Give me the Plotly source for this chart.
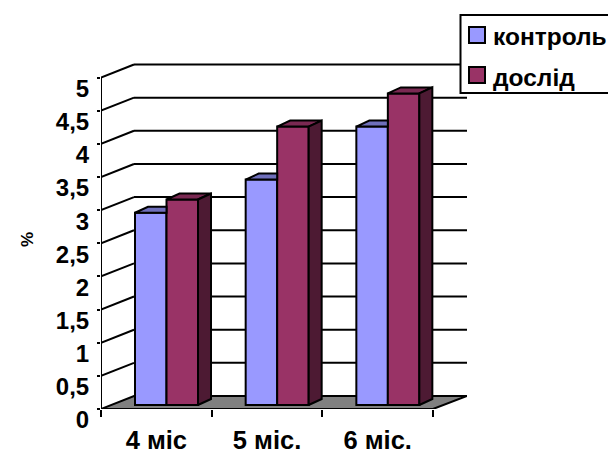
import plotly.graph_objects as go

categories = ["4 міс", "5 міс.", "6 міс."]
control = [2.9, 3.4, 4.2]
trial = [3.1, 4.2, 4.7]
y_ticks = [0, 0.5, 1, 1.5, 2, 2.5, 3, 3.5, 4, 4.5, 5]
y_tick_labels = ["0", "0,5", "1", "1,5", "2", "2,5", "3", "3,5", "4", "4,5", "5"]

W, H = 608, 450
L, R, T, B = 101, 467, 55, 409
XU, YU = 110.67, 66.3            # pixels per category / per value unit
WDX, WDY = 33 / XU, 13 / YU      # depth of the chart box
BDX, BDY = 13 / XU, 6 / YU       # depth of a bar
BASE = 4 / YU
BW = 31.5 / XU
OFF = 34 / XU
BLUE, BLUE_TOP, BLUE_SIDE = "#9999FF", "#6F6FBB", "#4D4D80"
RED, RED_TOP, RED_SIDE = "#993366", "#7A2952", "#4D1A33"
LW = 2

fig = go.Figure()
xs = [i for i in range(len(categories))]

for name, vals, col, k in [("контроль", control, BLUE, 0), ("дослід", trial, RED, 1)]:
    fig.add_bar(x=[i + 0.5 for i in xs], y=vals, base=BASE, offset=[OFF + k * BW - 0.5] * 3,
                width=BW, name=name, marker=dict(color=col, line=dict(color="black", width=LW)),
                showlegend=False)

# top and side faces, worked out from the values
for i in xs:
    x0 = i + OFF
    x1 = x0 + BW
    x2 = x1 + BW
    t = BASE + control[i]
    fig.add_scatter(x=[x0, x1, x1, x0 + BDX, x0], y=[t, t, t + BDY, t + BDY, t], fill="toself",
                    fillcolor=BLUE_TOP, mode="lines", line=dict(color="black", width=LW),
                    showlegend=False, cliponaxis=False)
    t = BASE + trial[i]
    fig.add_scatter(x=[x1, x2, x2 + BDX, x1 + BDX, x1], y=[t, t, t + BDY, t + BDY, t], fill="toself",
                    fillcolor=RED_TOP, mode="lines", line=dict(color="black", width=LW),
                    showlegend=False, cliponaxis=False)
    fig.add_scatter(x=[x2, x2 + BDX, x2 + BDX, x2, x2], y=[BASE, BASE + BDY, t + BDY, t, BASE],
                    fill="toself", fillcolor=RED_SIDE, mode="lines",
                    line=dict(color="black", width=LW), showlegend=False, cliponaxis=False)

# axis lines
fig.add_scatter(x=[0, 0], y=[0, y_ticks[-1]], mode="lines", line=dict(color="black", width=LW),
                showlegend=False, cliponaxis=False)
fig.add_scatter(x=[0, len(categories)], y=[0, 0], mode="lines", line=dict(color="black", width=LW),
                showlegend=False, cliponaxis=False)

shapes = []
xend = (R - L) / XU
shapes.append(dict(type="path", layer="below", xref="x", yref="y",
                   path=f"M0,0 L{len(categories)},0 L{xend},{WDY} L{WDX},{WDY} Z",
                   fillcolor="#808080", line=dict(color="black", width=LW)))
for v in y_ticks[1:]:
    shapes.append(dict(type="line", layer="below", xref="x", yref="y", x0=0, y0=v, x1=WDX, y1=v + WDY,
                       line=dict(color="black", width=LW)))
    shapes.append(dict(type="line", layer="below", xref="x", yref="y", x0=WDX, y0=v + WDY, x1=xend, y1=v + WDY,
                       line=dict(color="black", width=LW)))


def px(x):
    return (x - L) / (R - L)


def py(y):
    return (B - y) / (B - T)


# legend box
shapes.append(dict(type="rect", layer="above", xref="paper", yref="paper", x0=px(460.5), x1=px(612),
                   y0=py(93), y1=py(15), fillcolor="white", line=dict(color="black", width=LW)))
shapes.append(dict(type="rect", layer="above", xref="paper", yref="paper", x0=px(469), x1=px(485),
                   y0=py(43), y1=py(27), fillcolor=BLUE, line=dict(color="black", width=LW)))
shapes.append(dict(type="rect", layer="above", xref="paper", yref="paper", x0=px(469), x1=px(485),
                   y0=py(83), y1=py(67), fillcolor=RED, line=dict(color="black", width=LW)))
annotations = [
    dict(text="<b>контроль</b>", xref="paper", yref="paper", x=px(491), y=py(36), xanchor="left",
         yanchor="middle", showarrow=False, font=dict(size=24.5, color="black")),
    dict(text="<b>дослід</b>", xref="paper", yref="paper", x=px(491), y=py(77), xanchor="left",
         yanchor="middle", showarrow=False, font=dict(size=24.5, color="black")),
    dict(text="<b>%</b>", xref="paper", yref="paper", x=px(27), y=py(240), xanchor="center",
         yanchor="middle", showarrow=False, textangle=-90, font=dict(size=17, color="black")),
]

fig.update_layout(
    width=W, height=H, autosize=False,
    margin=dict(l=L, r=W - R, t=T, b=H - B, pad=0, autoexpand=False),
    paper_bgcolor="white", plot_bgcolor="rgba(0,0,0,0)",
    font=dict(family="Liberation Sans", color="black"),
    separators=", ", shapes=shapes, annotations=annotations, barmode="overlay",
    xaxis=dict(range=[0, xend], tickvals=[i + 0.5 for i in xs], ticktext=[f"<b>{c}</b>" for c in categories],
               ticks="", showgrid=False, zeroline=False, showline=False, tickangle=0,
               tickfont=dict(size=25.5), ticklabelstandoff=13,
               minor=dict(tickvals=list(range(len(categories) + 1)), ticks="outside", ticklen=7,
                          tickwidth=LW, tickcolor="black", showgrid=False)),
    yaxis=dict(range=[0, (B - T) / YU], tickvals=y_ticks, ticktext=[f"<b>{s}</b>" for s in y_tick_labels],
               ticks="outside", ticklen=3, tickwidth=LW, tickcolor="black", showgrid=False, zeroline=False,
               showline=False, tickfont=dict(size=24), ticklabelshift=11, ticklabelstandoff=3),
)

fig.write_html("out.html", config={"displayModeBar": False},
               post_script="document.body.style.margin='0';document.documentElement.style.overflow='hidden';")
